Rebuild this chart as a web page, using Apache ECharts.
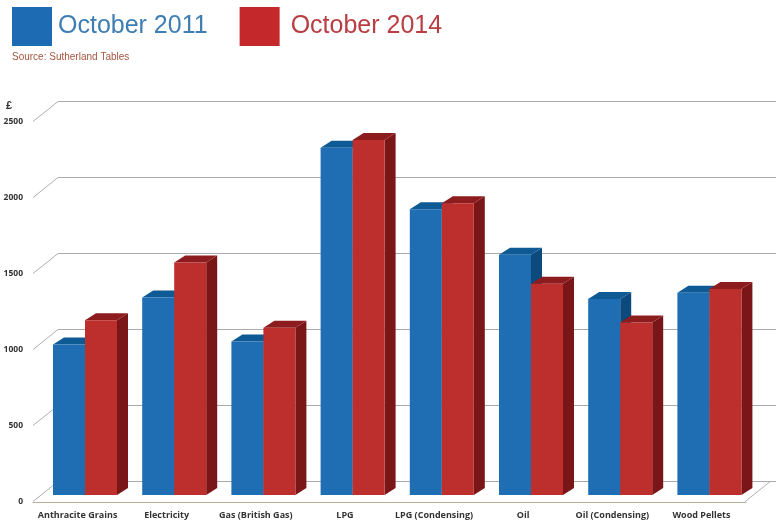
<!DOCTYPE html>
<html><head><meta charset="utf-8">
<style>html,body{margin:0;padding:0;background:#fff}#c{width:776px;height:524px}</style>
<script src="https://cdn.jsdelivr.net/npm/echarts@6/dist/echarts.min.js"></script>
</head><body><div id="c"></div>
<script>
const categories = ['Anthracite Grains','Electricity','Gas (British Gas)','LPG','LPG (Condensing)','Oil','Oil (Condensing)','Wood Pellets'];
const october2011 = [990,1300,1010,2285,1880,1580,1290,1330];
const october2014 = [1150,1530,1100,2335,1920,1390,1135,1355];
const yTicks = [0,500,1000,1500,2000,2500];

const BAR_W = 32, DX = 11, DY = 7;
function barRenderer(front, top, side, side01){
  return function(params, api){
    const p = api.coord([api.value(0), api.value(1)]);
    const b = api.coord([api.value(0), 0]);
    const x = p[0] + side01 * BAR_W, y = p[1], w = BAR_W, by = b[1];
    return {type:'group', children:[
      {type:'polygon', shape:{points:[[x+w,y],[x+w+DX,y-DY],[x+w+DX,by-DY],[x+w,by]]}, style:{fill:side}},
      {type:'polygon', shape:{points:[[x,y],[x+DX,y-DY],[x+w+DX,y-DY],[x+w,y]]}, style:{fill:top}},
      {type:'rect', shape:{x:x,y:y,width:w,height:by-y}, style:{fill:front}}
    ]};
  };
}
function toPairs(a){ return a.map((v,i)=>[i,v]); }

const chart = echarts.init(document.getElementById('c'));
const font = '"Liberation Sans", Arial, sans-serif';
chart.setOption({
  animation:false,
  backgroundColor:'#fff',
  title:[
    {text:'Source: Sutherland Tables', left:7, top:47, textStyle:{fontSize:10,fontWeight:'normal',color:'#a5553f',fontFamily:font}},
    {text:'£', left:1, top:95, textStyle:{fontSize:11,fontWeight:'bold',color:'#333',fontFamily:font}}
  ],
  legend:{
    left:7, top:2, itemWidth:40, itemHeight:39, itemGap:32, icon:'rect',
    textStyle:{fontSize:25,fontFamily:font,padding:[0,0,4,1]},
    data:[
      {name:'October 2011', textStyle:{color:'#3f7eb3'}},
      {name:'October 2014', textStyle:{color:'#b93d42',padding:[0,0,4,6]}}
    ]
  },
  grid:[
    {left:58, top:101.5, width:718, height:380},
    {left:40.4, top:115, width:713.6, height:380},
    {left:33, top:122, width:713, height:380}
  ],
  xAxis:[
    {gridIndex:0, type:'value', min:0, max:1, show:false},
    {gridIndex:1, type:'category', data:categories, show:false},
    {gridIndex:2, type:'category', data:categories,
      axisLine:{show:true,lineStyle:{color:'#b9ad9c',width:1}}, axisTick:{show:false},
      axisLabel:{interval:0,margin:9,fontSize:9,fontWeight:'bold',color:'#333',fontFamily:'"Open Sans", sans-serif'}}
  ],
  yAxis:[
    {gridIndex:0, type:'value', min:0, max:2500, interval:500,
      axisLine:{show:false}, axisTick:{show:false}, axisLabel:{show:false},
      splitLine:{show:true,lineStyle:{color:'#aaaaaa',width:1}}},
    {gridIndex:1, type:'value', min:0, max:2500, interval:500, show:false, splitLine:{show:false}},
    {gridIndex:2, type:'value', min:0, max:2500, interval:500,
      axisLine:{show:false}, axisTick:{show:false}, splitLine:{show:false},
      axisLabel:{margin:10,fontSize:8.5,fontWeight:'bold',color:'#333',fontFamily:'"Open Sans", sans-serif',formatter:function(v){return String(v);}}}
  ],
  series:[
    {type:'custom', name:'wall edges', xAxisIndex:0, yAxisIndex:0, z:1, silent:true,
      data:yTicks.map(v=>[0,v]), encode:{x:0,y:1},
      renderItem:function(params, api){
        const p = api.coord([0, api.value(1)]);
        const style = {stroke:'#b0b0b0', lineWidth:1, fill:null};
        const kids = [{type:'line', shape:{x1:p[0],y1:p[1],x2:p[0]-25,y2:p[1]+20}, style:style}];
        if (api.value(1) === 0) {
          const q = api.coord([0.992, 0]);
          kids.push({type:'line', shape:{x1:q[0],y1:q[1],x2:q[0]-25,y2:q[1]+20}, style:style});
        }
        return {type:'group', children:kids};
      }},
    {type:'custom', name:'October 2011', xAxisIndex:1, yAxisIndex:1, z:3,
      data:toPairs(october2011), encode:{x:0,y:1}, itemStyle:{color:'#1d6cb3'},
      renderItem:barRenderer('#1f6eb4','#0e5a94','#0c4a7e',-1)},
    {type:'custom', name:'October 2014', xAxisIndex:1, yAxisIndex:1, z:4,
      data:toPairs(october2014), encode:{x:0,y:1}, itemStyle:{color:'#c4282a'},
      renderItem:barRenderer('#bd2f2d','#8c1c1e','#7b1618',0)}
  ]
});
</script></body></html>
